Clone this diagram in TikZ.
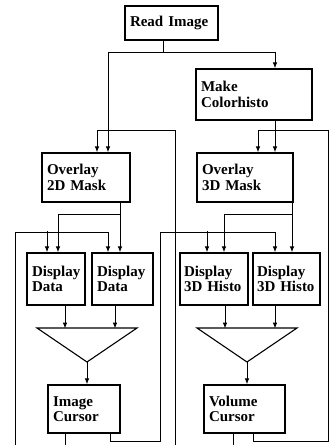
\documentclass[tikz,border=0pt]{standalone}
\usepackage{fontspec}
\setmainfont{Liberation Serif}
\usetikzlibrary{arrows.meta, calc}
\tikzset{
    bloco/.style={draw=black, line width=1.2pt, align=left, inner xsep=5pt, font=\bfseries\fontsize{15}{15.5}\selectfont},
    fio/.style={draw=black, line width=0.9pt},
    seta/.style={fio, -{Latex[length=6pt, width=4.5pt]}},
    funil/.style={draw=black, line width=1.1pt}
}

\begin{document}
\begin{tikzpicture}[x=1pt, y=-1pt]
    \useasboundingbox (0,0) rectangle (335,445);

    \node[bloco, text width=83pt, minimum height=34pt] (read) at (171.5,23) {Read Image};
    \node[bloco, text width=106pt, minimum height=51pt] (cor) at (254,94.5) {Make\\Colorhisto};
    \node[bloco, text width=78pt, minimum height=49pt] (ov2d) at (86,177.5) {Overlay\\2D Mask};
    \node[bloco, text width=86pt, minimum height=49pt] (ov3d) at (245,177.5) {Overlay\\3D Mask};
    \node[bloco, text width=48pt, minimum height=52pt] (dd1) at (56,279) {Display\\Data};
    \node[bloco, text width=51pt, minimum height=52pt] (dd2) at (122.5,279) {Display\\Data};
    \node[bloco, text width=60pt, inner xsep=4pt, minimum height=52pt] (dh1) at (214,279) {Display\\3D Histo};
    \node[bloco, text width=59pt, inner xsep=4pt, minimum height=52pt] (dh2) at (286.5,279) {Display\\3D Histo};
    \node[bloco, text width=62pt, minimum height=48pt] (imgcur) at (84,409) {Image\\Cursor};
    \node[bloco, text width=71pt, minimum height=48pt] (volcur) at (244.5,409) {Volume\\Cursor};

    \draw[funil] (37,328) -- (137,328) -- (87,362) coordinate (vL) -- cycle;
    \draw[funil] (197,328) -- (297,328) -- (247,362) coordinate (vR) -- cycle;

    \coordinate (retornoA) at (15,445);
    \coordinate (retornoB) at (175,445);

    % read image fans out
    \draw[seta] ([xshift=-8.5pt]read.south) -- ++(0,12) coordinate (ramo) -| ([xshift=22pt]ov2d.north);
    \draw[seta] (ramo) -| ([xshift=21pt]cor.north);
    \draw[seta] ([xshift=21pt]cor.south) -- ([xshift=30pt]ov3d.north);

    % masks to the displays
    \draw[seta] ([xshift=34pt]ov2d.south) -- ([xshift=-2.5pt]dd2.north);
    \draw[seta] ([xshift=34pt]ov2d.south) ++(0,12) -| ([xshift=2pt]dd1.north);
    \draw[seta] ([xshift=47pt]ov3d.south) -- ([xshift=5.5pt]dh2.north);
    \draw[seta] ([xshift=47pt]ov3d.south) ++(0,12) -| ([xshift=10pt]dh1.north);

    % displays into the triangles, then the cursors
    \draw[seta] ([xshift=9pt]dd1.south) -- ++(0,23);
    \draw[seta] ([xshift=-7.5pt]dd2.south) -- ++(0,23);
    \draw[seta] ([xshift=11pt]dh1.south) -- ++(0,23);
    \draw[seta] ([xshift=-11.5pt]dh2.south) -- ++(0,23);
    \draw[seta] (vL) -- (vL |- imgcur.north);
    \draw[seta] (vR) -- (vR |- volcur.north);

    \draw[fio] ([xshift=-19pt]imgcur.south) -- ++(0,12);
    \draw[fio] ([xshift=-11.5pt]volcur.south) -- ++(0,12);

    % loops back up
    \draw[seta] ([xshift=26pt]imgcur.south) -- ++(0,8) -| (160,232) -| ([xshift=-11.5pt]dh2.north);
    \draw[seta] ([xshift=-7pt,yshift=21pt]dh1.north) -- ([xshift=-7pt]dh1.north);
    \draw[seta] ([xshift=8.5pt]volcur.south) -- ++(0,8) -| (328,130) -| ([xshift=13pt]ov3d.north);
    \draw[seta] (retornoB) -- (175,130) -| ([xshift=11pt]ov2d.north);
    \draw[seta] (retornoA) -- (15,232) -| ([xshift=-14.5pt]dd2.north);
    \draw[seta] ([xshift=-9pt,yshift=21pt]dd1.north) -- ([xshift=-9pt]dd1.north);
\end{tikzpicture}
\end{document}
